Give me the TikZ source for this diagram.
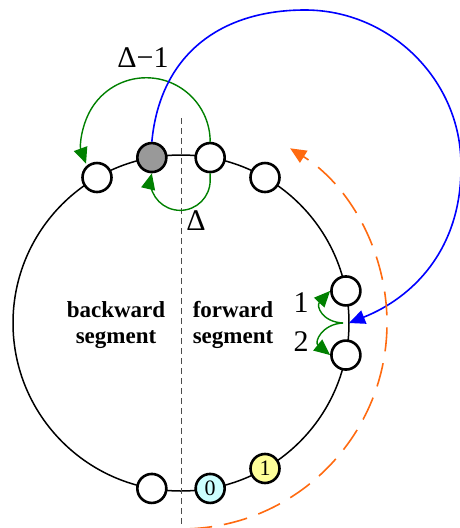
\documentclass[tikz,border=0pt]{standalone}
\usepackage{fontspec}
\setmainfont{Liberation Serif}
\usetikzlibrary{arrows.meta}
\definecolor{dgreen}{HTML}{008000}
\definecolor{myblue}{HTML}{0000FF}
\definecolor{myorange}{HTML}{FF6A10}
\definecolor{nodegray}{HTML}{999999}
\definecolor{nodecyan}{HTML}{CCFFFF}
\definecolor{nodeyellow}{HTML}{FFFF99}
\begin{document}
\begin{tikzpicture}[x=1pt,y=-1pt,
  ringnode/.style={circle,draw=black,line width=2.6pt,minimum size=29pt,inner sep=0pt,fill=white,
    font=\fontsize{22}{22}\selectfont},
  ringline/.style={line width=1.5pt,black},
  divider/.style={line width=0.9pt,black!70,dash pattern=on 6pt off 4pt},
  tip/.style={-{Triangle[length=16pt,width=14pt]}},
  greenarrow/.style={tip,draw=dgreen,line width=1.4pt},
  bluearrow/.style={tip,draw=myblue,line width=1.6pt},
  orangearrow/.style={tip,draw=myorange,line width=1.6pt,dash pattern=on 24pt off 12pt},
  biglabel/.style={anchor=base,inner sep=0pt,font=\fontsize{30}{30}\selectfont},
  seglabel/.style={align=center,inner sep=0pt,font=\fontsize{23}{26}\selectfont\bfseries}
]
\useasboundingbox (0,0) rectangle (459,528);
\coordinate (O) at (181,323);
% ring
\draw[ringline] (O) circle[radius=168];
% divider
\draw[divider] (181,118) -- (181,530);
% nodes on the ring
\path (O) ++(-120:168) node[ringnode] (A) {};
\path (O) ++(-100:168) node[ringnode,fill=nodegray] (G) {};
\path (O) ++(-80:168) node[ringnode] (B) {};
\path (O) ++(-60:168) node[ringnode] (C) {};
\path (O) ++(-11:168) node[ringnode] (R1) {};
\path (O) ++(11:168) node[ringnode] (R2) {};
\path (O) ++(60:168) node[ringnode,fill=nodeyellow] (Y) {1};
\path (O) ++(80:168) node[ringnode,fill=nodecyan] (Z) {0};
\path (O) ++(100:168) node[ringnode] (W) {};
\coordinate (X) at (349,323);
\coordinate (S) at (343,323);
% green arcs
\draw[greenarrow] (B.north) arc[start angle=0,end angle=-200,radius=64];
\draw[greenarrow] (B.south) -- ++(0,7) arc[start angle=0,end angle=180,radius=30] -- (G.south);
\draw[greenarrow] (S) .. controls (322,322) and (316,306) .. (R1.west);
\draw[greenarrow] (S) .. controls (322,324) and (314,342) .. (R2.west);
% blue curve
\draw[bluearrow] (G.north) .. controls (160,55) and (220,10) .. (305,10)
  .. controls (390,10) and (461,80) .. (461,165)
  .. controls (462,250) and (412,298) .. (X);
% orange dashed arc
\draw[orangearrow] (O) ++(88:206) arc[start angle=88,end angle=-58,radius=206];
% labels
\node[biglabel] (l1) at (143,67) {Δ−1};
\node[biglabel] (l2) at (196,230) {Δ};
\node[biglabel] (l3) at (301,312) {1};
\node[biglabel] (l4) at (301,351) {2};
\node[seglabel] (bw) at (116,325) {backward\\segment};
\node[seglabel] (fw) at (233,325) {forward\\segment};
\end{tikzpicture}
\end{document}
